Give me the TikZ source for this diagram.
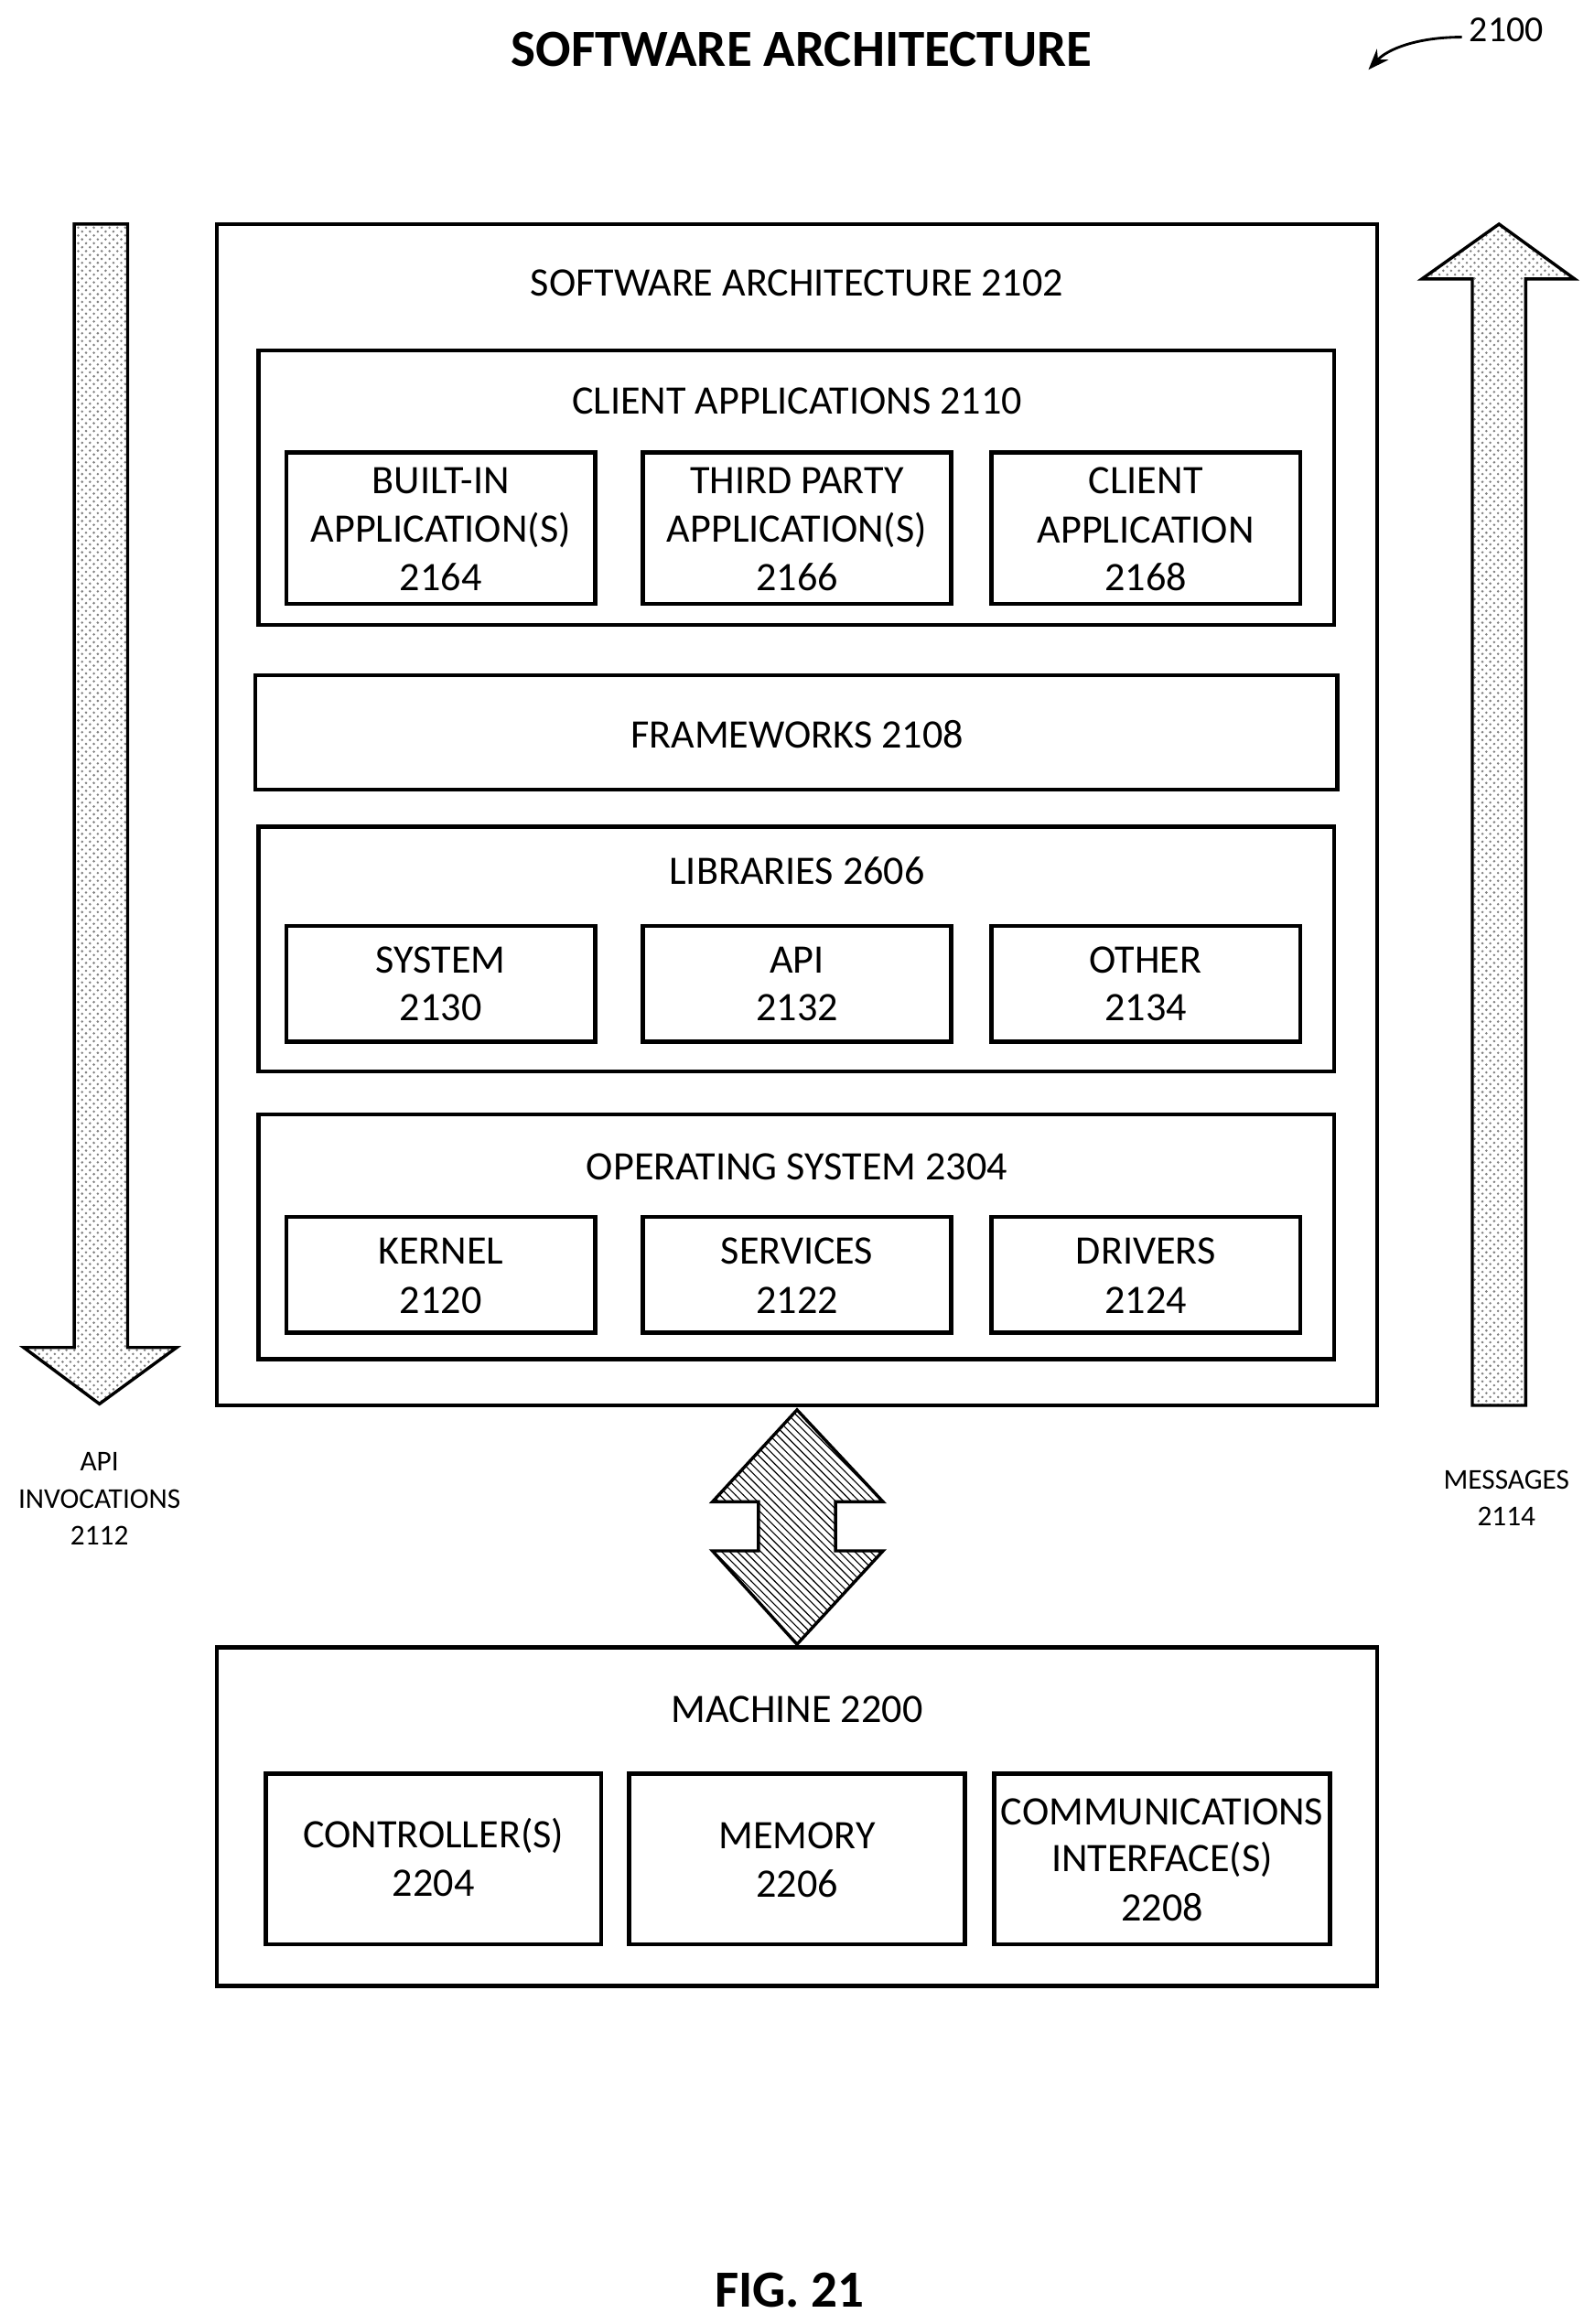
\documentclass[tikz,border=0pt]{standalone}
\usepackage{fontspec}
\setmainfont{Carlito}
\usetikzlibrary{fit,patterns,arrows.meta}
\begin{document}
\begin{tikzpicture}[x=0.02cm,y=-0.02cm,
  box/.style={draw,line width=1.6pt,inner sep=0pt},
  lbl/.style={font=\fontsize{15.5}{18}\selectfont,align=center,inner sep=0pt},
  sml/.style={font=\fontsize{11}{13}\selectfont,align=center,inner sep=0pt},
  fatarrow/.style={draw,line width=1.2pt,line join=miter}]
\useasboundingbox (0,0) rectangle (1074,1566);
\node[font=\bfseries\fontsize{20}{24}\selectfont] (title) at (540,33) {SOFTWARE ARCHITECTURE};
\node[font=\fontsize{14}{17}\selectfont] (ref) at (1015,20) {2100};
\coordinate (refs) at (985,25);
\coordinate (refe) at (922,47);
\draw[-{Stealth[length=8pt]},line width=1pt] (refs) .. controls (955,25) and (935,33) .. (refe);

\node[box,fit={(146,151)(928,947)}] (sa) {};
\node[lbl] (salbl) at (537,191) {SOFTWARE ARCHITECTURE 2102};

\node[box,fit={(174,236)(899,421)}] (ca) {};
\node[lbl] (calbl) at (537,270) {CLIENT APPLICATIONS 2110};
\node[box,fit={(193,305)(401,407)}] (b1) {};
\node[box,fit={(433,305)(641,407)}] (b2) {};
\node[box,fit={(668,305)(876,407)}] (b3) {};
\node[lbl] at (297,324) {BUILT-IN}; \node[lbl] at (297,357) {APPLICATION(S)}; \node[lbl] at (297,389) {2164};
\node[lbl] at (537,324) {THIRD PARTY}; \node[lbl] at (537,357) {APPLICATION(S)}; \node[lbl] at (537,389) {2166};
\node[lbl] at (772,324) {CLIENT}; \node[lbl] at (772,357) {APPLICATION}; \node[lbl] at (772,389) {2168};

\node[box,fit={(172,455)(901,532)}] (fw) {};
\node[lbl] at (537,495) {FRAMEWORKS 2108};

\node[box,fit={(174,557)(899,722)}] (lib) {};
\node[lbl] at (537,587) {LIBRARIES 2606};
\node[box,fit={(193,624)(401,702)}] (l1) {};
\node[box,fit={(433,624)(641,702)}] (l2) {};
\node[box,fit={(668,624)(876,702)}] (l3) {};
\node[lbl] at (297,647) {SYSTEM}; \node[lbl] at (297,679) {2130};
\node[lbl] at (537,647) {API}; \node[lbl] at (537,679) {2132};
\node[lbl] at (772,647) {OTHER}; \node[lbl] at (772,679) {2134};

\node[box,fit={(174,751)(899,916)}] (os) {};
\node[lbl] at (537,786) {OPERATING SYSTEM 2304};
\node[box,fit={(193,820)(401,898)}] (o1) {};
\node[box,fit={(433,820)(641,898)}] (o2) {};
\node[box,fit={(668,820)(876,898)}] (o3) {};
\node[lbl] at (297,843) {KERNEL}; \node[lbl] at (297,876) {2120};
\node[lbl] at (537,843) {SERVICES}; \node[lbl] at (537,876) {2122};
\node[lbl] at (772,843) {DRIVERS}; \node[lbl] at (772,876) {2124};

\node[box,fit={(146,1110)(928,1338)}] (mc) {};
\node[lbl] at (537,1152) {MACHINE 2200};
\node[box,fit={(179,1195)(405,1310)}] (m1) {};
\node[box,fit={(424,1195)(650,1310)}] (m2) {};
\node[box,fit={(670,1195)(896,1310)}] (m3) {};
\node[lbl] at (292,1237) {CONTROLLER(S)}; \node[lbl] at (292,1269) {2204};
\node[lbl] at (537,1237) {MEMORY}; \node[lbl] at (537,1269) {2206};
\node[lbl] at (783,1221) {COMMUNICATIONS}; \node[lbl] at (783,1253) {INTERFACE(S)}; \node[lbl] at (783,1285) {2208};

% API invocations arrow
\draw[fatarrow,pattern=crosshatch dots,pattern color=gray] (50,151) -- (86,151) -- (86,908) -- (119,908) -- (67,946) -- (16,908) -- (50,908) -- cycle;
\node[sml] at (67,985) {API}; \node[sml] at (67,1010) {INVOCATIONS}; \node[sml] at (67,1035) {2112};
% Messages arrow
\draw[fatarrow,pattern=crosshatch dots,pattern color=gray] (992,947) -- (1028,947) -- (1028,188) -- (1061,188) -- (1010,151) -- (958,188) -- (992,188) -- cycle;
\node[sml] at (1015,997) {MESSAGES}; \node[sml] at (1015,1022) {2114};

% double arrow between sa and mc
\draw[fatarrow,pattern=north west lines] (537,950) -- (595,1012) -- (563,1012) -- (563,1045) -- (595,1045) -- (537,1108) -- (480,1045) -- (511,1045) -- (511,1012) -- (480,1012) -- cycle;

\node[font=\bfseries\fontsize{20}{24}\selectfont] (fig) at (532,1543) {FIG. 21};
\end{tikzpicture}
\end{document}
